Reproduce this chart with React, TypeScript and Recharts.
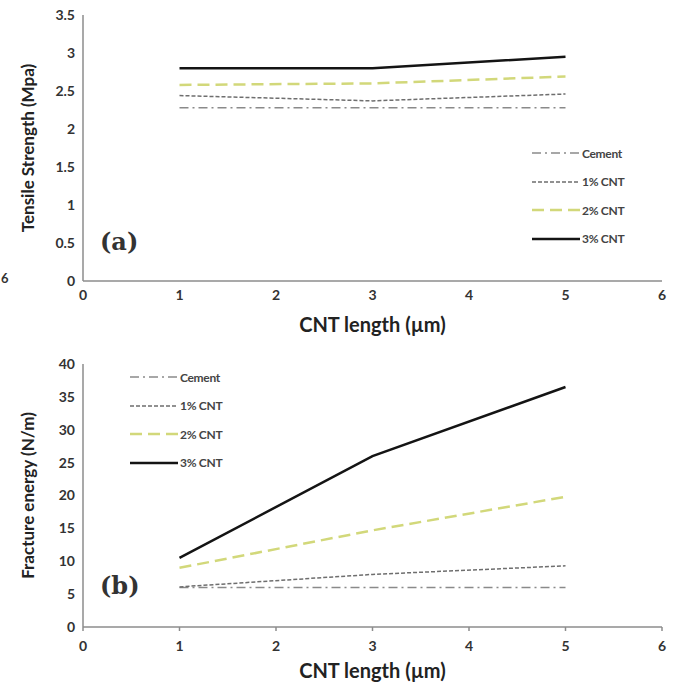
import React from 'react';
import { LineChart, Line, XAxis, YAxis, Legend } from 'recharts';

// CNT length (µm)
const lengths = [1, 3, 5];
const xTicks = [0, 1, 2, 3, 4, 5, 6];

// (a) tensile strength, MPa
const tensileCement = [2.28, 2.28, 2.28];
const tensile1 = [2.44, 2.37, 2.46];
const tensile2 = [2.58, 2.6, 2.69];
const tensile3 = [2.8, 2.8, 2.95];
const tensileTicks = [0, 0.5, 1, 1.5, 2, 2.5, 3, 3.5];

// (b) fracture energy, N/m
const fractureCement = [6, 6, 6];
const fracture1 = [6.1, 8, 9.3];
const fracture2 = [9, 14.7, 19.8];
const fracture3 = [10.5, 26, 36.5];
const fractureTicks = [0, 5, 10, 15, 20, 25, 30, 35, 40];

const seriesNames = ['Cement', '1% CNT', '2% CNT', '3% CNT'];

const lineStyles: Record<string, { stroke: string; dash?: string; width: number }> = {
  Cement: { stroke: '#8a8a8a', dash: '9 4 2 4', width: 1.5 },
  '1% CNT': { stroke: '#6e6e6e', dash: '4 2', width: 1.5 },
  '2% CNT': { stroke: '#d2d87a', dash: '12 6', width: 2.5 },
  '3% CNT': { stroke: '#141414', width: 2.5 },
};

const font = 'Lato, "Open Sans", sans-serif';

const buildRows = (cols: number[][]) =>
  lengths.map((len, i) => {
    const row: Record<string, number> = { len };
    seriesNames.forEach((name, s) => {
      row[name] = cols[s][i];
    });
    return row;
  });

const tensileData = buildRows([tensileCement, tensile1, tensile2, tensile3]);
const fractureData = buildRows([fractureCement, fracture1, fracture2, fracture3]);

const tickStyle = { fontSize: 14, fontWeight: 700, fill: '#333', fontFamily: font };

const LegendBox = ({ payload }: any) => {
  const items = [...(payload || [])].sort(
    (a: any, b: any) => seriesNames.indexOf(a.value) - seriesNames.indexOf(b.value)
  );
  return (
    <div style={{ fontFamily: font, fontSize: 12, fontWeight: 700, color: '#444', letterSpacing: -0.3 }}>
      {items.map((entry: any) => {
        const st = lineStyles[entry.value];
        return (
          <div key={entry.value} style={{ display: 'flex', alignItems: 'center', height: 28.5 }}>
            <svg width={48} height={6}>
              <line x1={0} y1={3} x2={48} y2={3} stroke={st.stroke} strokeWidth={st.width} strokeDasharray={st.dash} />
            </svg>
            <span style={{ marginLeft: 2 }}>{entry.value}</span>
          </div>
        );
      })}
    </div>
  );
};

const Panel = ({
  data,
  ticks,
  max,
  yLabel,
  tag,
  height,
  top,
  plotH,
  legendPos,
  xTickSize,
  xTickMargin,
  tagY,
}: {
  data: Record<string, number>[];
  ticks: number[];
  max: number;
  yLabel: string;
  tag: string;
  height: number;
  top: number;
  plotH: number;
  legendPos: { left: number; top: number };
  xTickSize: number;
  xTickMargin: number;
  tagY: number;
}) => (
  <LineChart width={677} height={height} data={data} margin={{ top, right: 15, bottom: height - top - plotH - 53, left: 23 }}>
    <XAxis
      dataKey="len"
      type="number"
      domain={[0, 6]}
      ticks={xTicks}
      interval={0}
      height={53}
      stroke="#8c8c8c"
      strokeWidth={1.5}
      tickLine={xTickSize > 0}
      tickSize={xTickSize}
      tickMargin={xTickMargin}
      tick={tickStyle}
      label={{
        value: 'CNT length (µm)',
        position: 'insideBottom',
        offset: 2,
        style: { fontSize: 20, fontWeight: 700, fill: '#222', fontFamily: font },
      }}
    />
    <YAxis
      type="number"
      domain={[0, max]}
      ticks={ticks}
      interval={0}
      width={60}
      stroke="#8c8c8c"
      strokeWidth={1.5}
      tickLine={false}
      tickSize={0}
      tickMargin={8}
      tick={tickStyle}
      label={{
        value: yLabel,
        angle: -90,
        position: 'insideLeft',
        style: { fontSize: 17, fontWeight: 700, fill: '#222', fontFamily: font, textAnchor: 'middle' },
      }}
    />
    <Legend
      layout="vertical"
      align="center"
      verticalAlign="middle"
      content={<LegendBox />}
      wrapperStyle={{ left: legendPos.left, top: legendPos.top, width: 120 }}
    />
    {seriesNames.map((name) => (
      <Line
        key={name}
        dataKey={name}
        name={name}
        type="linear"
        stroke={lineStyles[name].stroke}
        strokeWidth={lineStyles[name].width}
        strokeDasharray={lineStyles[name].dash}
        dot={false}
        activeDot={false}
        isAnimationActive={false}
      />
    ))}
    <text x={100} y={tagY} fontFamily="'DejaVu Serif', 'Liberation Serif', serif" fontWeight={700} fontSize={24} fill="#333">
      {tag}
    </text>
  </LineChart>
);

export default function App() {
  return (
    <div style={{ position: 'absolute', left: 0, top: 0, width: 677, height: 685, background: '#fff' }}>
      <Panel
        data={tensileData}
        ticks={tensileTicks}
        max={3.5}
        yLabel="Tensile Strength (Mpa)"
        tag="(a)"
        height={340}
        top={15}
        plotH={266}
        legendPos={{ left: 532, top: 139 }}
        xTickSize={0}
        xTickMargin={9}
        tagY={250}
      />
      <Panel
        data={fractureData}
        ticks={fractureTicks}
        max={40}
        yLabel="Fracture energy (N/m)"
        tag="(b)"
        height={345}
        top={24}
        plotH={263}
        legendPos={{ left: 130, top: 23 }}
        xTickSize={4}
        xTickMargin={10}
        tagY={254}
      />
      <svg style={{ position: 'absolute', left: 0, top: 0 }} width={20} height={300}>
        <text x={1} y={283} fontFamily={font} fontWeight={700} fontSize={13} fill="#333">
          6
        </text>
      </svg>
    </div>
  );
}
